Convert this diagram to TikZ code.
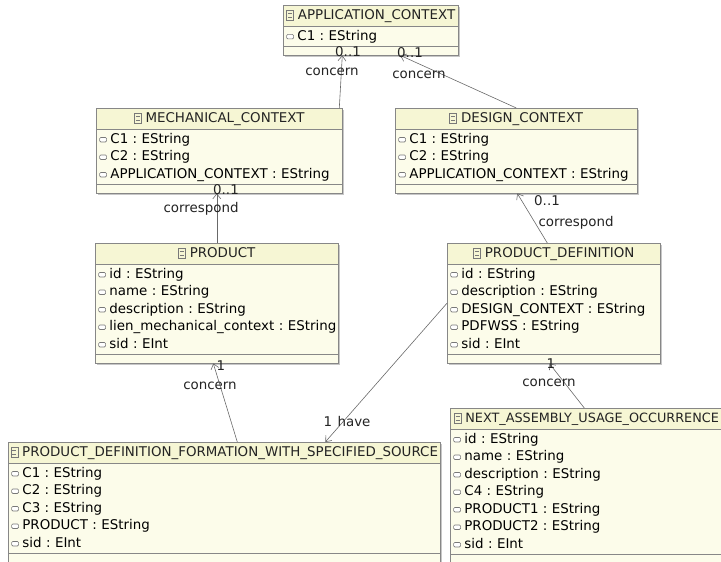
\documentclass[tikz,border=0pt]{standalone}
\usepackage{fontspec}
\setmainfont{DejaVu Sans}
\usetikzlibrary{shapes.multipart,arrows.meta,backgrounds}
\frenchspacing

\definecolor{boxline}{RGB}{135,135,135}
\definecolor{titlefill}{RGB}{246,246,212}
\definecolor{bodyfill}{RGB}{252,252,234}
\definecolor{reflines}{RGB}{105,105,105}
\definecolor{icongray}{RGB}{120,120,120}
\definecolor{txtgray}{RGB}{35,35,35}

% small icons for classes and attributes
\newcommand{\classicon}{\tikz[baseline=0pt]{\draw[icongray,line width=0.6pt] (0pt,-0.5pt) rectangle (7pt,9.5pt) (1.5pt,2.8pt) -- (5.5pt,2.8pt) (1.5pt,6.2pt) -- (5.5pt,6.2pt);}\hspace{4pt}}
\newcommand{\attricon}{\tikz[baseline=0pt]\draw[icongray,fill=white,line width=0.6pt,rounded corners=1.2pt] (0pt,1.5pt) rectangle (7pt,6pt);\hspace{3.5pt}}
\newcommand{\rowstrut}{\rule[-4.5pt]{0pt}{17.5pt}}
\newcommand{\ctitle}[1]{\noindent\makebox[\hsize][c]{\rowstrut\classicon #1}}
\newcommand{\attr}[1]{\mbox{\rowstrut\attricon #1}}
\newcommand{\noops}{\rule{0pt}{5.5pt}}

\begin{document}
\begin{tikzpicture}[x=1pt,y=-1pt,
	umlclass/.style={rectangle split, rectangle split parts=3,
		rectangle split part fill={titlefill,bodyfill,bodyfill},
		draw=boxline, line width=0.6pt, inner xsep=3pt, inner ysep=1.25pt,
		align=left, anchor=north west, text=txtgray,
		font=\fontsize{13.4}{17.5}\selectfont},
	boxshadow/.style={fill=black!22},
	ref/.style={draw=reflines, line width=0.6pt, -{Straight Barb[length=5pt,width=8pt]}},
	lbl/.style={font=\fontsize{13.4}{15}\selectfont, text=txtgray, inner sep=0pt}]
	\useasboundingbox (0,0) rectangle (721,562);
	\clip (0,0) rectangle (721,562);

	% classes
	\node[umlclass, text width=169pt] (app) at (283,5) {\ctitle{APPLICATION\_CONTEXT}
		\nodepart{two}\attr{C1 : EString}
		\nodepart{three}\noops};
	\node[umlclass, text width=240pt] (mech) at (96,108) {\ctitle{MECHANICAL\_CONTEXT}
		\nodepart{two}\attr{C1 : EString}\\\attr{C2 : EString}\\\attr{APPLICATION\_CONTEXT : EString}
		\nodepart{three}\noops};
	\node[umlclass, text width=236pt] (design) at (395,108) {\ctitle{DESIGN\_CONTEXT}
		\nodepart{two}\attr{C1 : EString}\\\attr{C2 : EString}\\\attr{APPLICATION\_CONTEXT : EString}
		\nodepart{three}\noops};
	\node[umlclass, text width=237pt] (product) at (95,243) {\ctitle{PRODUCT}
		\nodepart{two}\attr{id : EString}\\\attr{name : EString}\\\attr{description : EString}\\
		\attr{lien\_mechanical\_context : EString}\\\attr{sid : EInt}
		\nodepart{three}\noops};
	\node[umlclass, text width=207pt] (pd) at (447,243) {\ctitle{PRODUCT\_DEFINITION}
		\nodepart{two}\attr{id : EString}\\\attr{description : EString}\\\attr{DESIGN\_CONTEXT : EString}\\
		\attr{PDFWSS : EString}\\\attr{sid : EInt}
		\nodepart{three}\noops};
	\node[umlclass, text width=426pt] (pdfwss) at (8,442) {\ctitle{PRODUCT\_DEFINITION\_FORMATION\_WITH\_SPECIFIED\_SOURCE}
		\nodepart{two}\attr{C1 : EString}\\\attr{C2 : EString}\\\attr{C3 : EString}\\
		\attr{PRODUCT : EString}\\\attr{sid : EInt}
		\nodepart{three}\noops};
	\node[umlclass, text width=266pt] (nauo) at (450,408) {\ctitle{\fontsize{12.8}{17.5}\selectfont NEXT\_ASSEMBLY\_USAGE\_OCCURRENCE}
		\nodepart{two}\attr{id : EString}\\\attr{name : EString}\\\attr{description : EString}\\
		\attr{C4 : EString}\\\attr{PRODUCT1 : EString}\\\attr{PRODUCT2 : EString}\\\attr{sid : EInt}
		\nodepart{three}\noops};

	% shadows behind the classes
	\begin{scope}[on background layer]
		\foreach \cls in {app,mech,design,product,pd,pdfwss,nauo}
			\fill[boxshadow] ([shift={(1.5pt,-1.5pt)}]\cls.north west) rectangle ([shift={(1.5pt,-1.5pt)}]\cls.south east);
	\end{scope}

	% references
	\draw[ref] ([xshift=120pt]mech.north) -- ([xshift=-28.5pt]app.south);
	\draw[ref] (design.north) -- ([xshift=29.5pt]app.south);
	\draw[ref] (product.north) -- (product.north |- mech.south);
	\draw[ref] ([xshift=-6.5pt]pd.north) -- ([xshift=1pt]design.south);
	\draw[ref] ([xshift=13pt]pdfwss.north) -- ([xshift=-3.5pt]product.south);
	\draw[ref] (pd.west) -- ([xshift=101pt]pdfwss.north);
	\draw[ref] ([xshift=-2pt]nauo.north) -- ([xshift=-4.5pt]pd.south);

	% multiplicities and names
	\node[lbl] (m1) at (348,52) {0..1};
	\node[lbl] (n1) at (332,72) {concern};
	\node[lbl] (m2) at (410,53) {0..1};
	\node[lbl] (n2) at (419,75) {concern};
	\node[lbl] (m3) at (226,190) {0..1};
	\node[lbl] (n3) at (201,209) {correspond};
	\node[lbl] (m4) at (547,201) {0..1};
	\node[lbl] (n4) at (576,223) {correspond};
	\node[lbl] (m5) at (221,366) {1};
	\node[lbl] (n5) at (210,386) {concern};
	\node[lbl] (m6) at (328,422) {1};
	\node[lbl] (n6) at (354,422) {have};
	\node[lbl] (m7) at (551,364) {1};
	\node[lbl] (n7) at (549,383) {concern};
\end{tikzpicture}
\end{document}
